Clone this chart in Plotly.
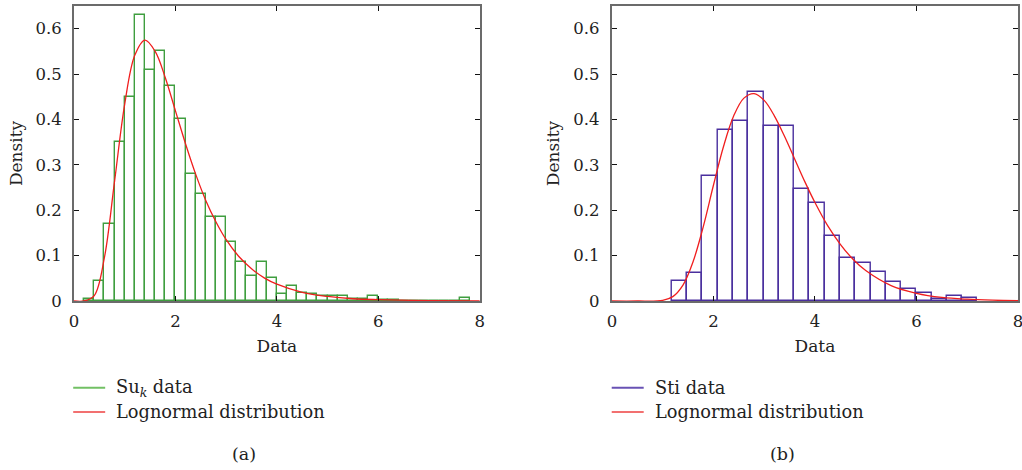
import plotly.graph_objects as go

# ---- Panel (a): Su_k histogram (bin width 0.2) ----
suk_bin_left = [0.2, 0.4, 0.6, 0.8, 1.0, 1.2, 1.4, 1.6, 1.8, 2.0,
                2.2, 2.4, 2.6, 2.8, 3.0, 3.2, 3.4, 3.6, 3.8, 4.0,
                4.2, 4.4, 4.6, 4.8, 5.0, 5.2, 5.4, 5.6, 5.8, 6.0,
                6.2, 6.4, 6.6, 6.8, 7.0, 7.2, 7.4, 7.6]
suk_density = [0.005, 0.045, 0.17, 0.35, 0.45, 0.63, 0.51, 0.55, 0.474, 0.40,
               0.28, 0.236, 0.185, 0.185, 0.131, 0.085, 0.056, 0.085, 0.051, 0.016,
               0.032, 0.017, 0.015, 0.011, 0.011, 0.011, 0.005, 0.004, 0.011, 0.002,
               0.002, 0.001, 0.001, 0.0, 0.0, 0.0, 0.0, 0.006]
suk_bin_width = 0.2

# fitted lognormal curve for panel (a)
suk_fit_x = [0.0, 0.2, 0.4, 0.6, 0.8, 1.0, 1.2, 1.4, 1.6, 1.8, 2.0, 2.2, 2.4,
             2.6, 2.8, 3.0, 3.25, 3.5, 3.75, 4.0, 4.5, 5.0, 5.5, 6.0, 7.0, 8.0]
suk_fit_y = [0.0, 0.0, 0.012, 0.096, 0.264, 0.434, 0.542, 0.575, 0.550, 0.492,
             0.419, 0.346, 0.279, 0.221, 0.174, 0.135, 0.098, 0.071, 0.051,
             0.037, 0.019, 0.010, 0.005, 0.003, 0.001, 0.0003]

# ---- Panel (b): Sti histogram (bin width ~0.301) ----
sti_bin_left = [1.18, 1.481, 1.782, 2.083, 2.384, 2.685, 2.986, 3.287, 3.588, 3.889,
                4.19, 4.491, 4.792, 5.093, 5.394, 5.695, 5.996, 6.297, 6.598, 6.899]
sti_density = [0.043, 0.062, 0.275, 0.377, 0.397, 0.461, 0.386, 0.386, 0.246, 0.217,
               0.143, 0.094, 0.083, 0.063, 0.041, 0.026, 0.018, 0.004, 0.010, 0.006]
sti_bin_width = 0.301

# fitted lognormal curve for panel (b)
sti_fit_x = [0.0, 0.5, 1.0, 1.2, 1.4, 1.6, 1.8, 2.0, 2.2, 2.4, 2.6, 2.8, 3.0,
             3.2, 3.4, 3.6, 3.8, 4.0, 4.25, 4.5, 4.75, 5.0, 5.5, 6.0, 6.5,
             7.0, 7.5, 8.0]
sti_fit_y = [0.0, 0.0, 0.0015, 0.0096, 0.035, 0.087, 0.164, 0.255, 0.341, 0.408,
             0.447, 0.457, 0.442, 0.408, 0.363, 0.313, 0.263, 0.217, 0.166,
             0.125, 0.092, 0.067, 0.034, 0.017, 0.008, 0.004, 0.002, 0.001]

x_ticks = [0, 2, 4, 6, 8]
y_ticks = [0, 0.1, 0.2, 0.3, 0.4, 0.5, 0.6]
y_tick_text = ["0", "0.1", "0.2", "0.3", "0.4", "0.5", "0.6"]

legend_a = ["Su<sub><i>k</i></sub> data", "Lognormal distribution"]
legend_b = ["Sti data", "Lognormal distribution"]
panel_labels = ["(a)", "(b)"]

GREEN = "#3f9e3f"
PURPLE = "#4a2f9e"
RED = "#f01e1e"
LEG_GREEN = "#72c064"
LEG_PURPLE = "#6852b4"
LEG_RED = "#f27070"
FONT = "DejaVu Serif"
TXT = "#222222"

W, H = 1022, 470
ML, MR, MT, MB = 73.5, 4.0, 5.5, 169.3
PW = W - ML - MR
PH = H - MT - MB


def px_x(p):
    """paper x fraction (plot-area relative) from a pixel column"""
    return (p - ML) / PW


def px_y(p):
    """paper y fraction (plot-area relative) from a pixel row"""
    return (H - MB - p) / PH


def centers(lefts, w):
    return [l + w / 2 for l in lefts]


fig = go.Figure()

# panel (a)
fig.add_trace(go.Bar(
    x=centers(suk_bin_left, suk_bin_width), y=suk_density, width=suk_bin_width,
    marker=dict(color="rgba(255,255,255,0)", line=dict(color=GREEN, width=1.4)),
    xaxis="x", yaxis="y", showlegend=False, hoverinfo="skip"))
fig.add_trace(go.Scatter(
    x=suk_fit_x, y=suk_fit_y, mode="lines", line=dict(color=RED, width=1.3, shape="spline"),
    xaxis="x", yaxis="y", showlegend=False, hoverinfo="skip"))

# panel (b)
fig.add_trace(go.Bar(
    x=centers(sti_bin_left, sti_bin_width), y=sti_density, width=sti_bin_width,
    marker=dict(color="rgba(255,255,255,0)", line=dict(color=PURPLE, width=1.4)),
    xaxis="x2", yaxis="y2", showlegend=False, hoverinfo="skip"))
fig.add_trace(go.Scatter(
    x=sti_fit_x, y=sti_fit_y, mode="lines", line=dict(color=RED, width=1.3, shape="spline"),
    xaxis="x2", yaxis="y2", showlegend=False, hoverinfo="skip"))

axis_common = dict(
    showline=True, linecolor="#6b6b6b", linewidth=2, mirror="ticks",
    ticks="inside", ticklen=5, tickwidth=1.3, tickcolor="#111111",
    showgrid=False, zeroline=False, automargin=False, ticklabeloverflow="allow",
    tickfont=dict(family=FONT, size=16.5, color=TXT),
    title_font=dict(family=FONT, size=17, color=TXT),
)

left_dom = [0, (479.5 - ML) / PW]
right_dom = [(611.7 - ML) / PW, 1]

# hand-built legends below each panel: line sample + label
shapes = []
annotations = []
for x0, labels, colors in [(72.7, legend_a, [LEG_GREEN, LEG_RED]),
                           (611.5, legend_b, [LEG_PURPLE, LEG_RED])]:
    for row, (lab, col) in enumerate(zip(labels, colors)):
        yy = 387.5 + row * 24.2
        shapes.append(dict(type="line", xref="paper", yref="paper",
                           x0=px_x(x0), x1=px_x(x0 + 32), y0=px_y(yy), y1=px_y(yy),
                           line=dict(color=col, width=2)))
        annotations.append(dict(text=lab, x=px_x(x0 + 41), y=px_y(yy), xref="paper", yref="paper",
                                xanchor="left", yanchor="middle", showarrow=False,
                                font=dict(family=FONT, size=17.8, color=TXT)))

for lab, cx in zip(panel_labels, [244, 782]):
    annotations.append(dict(text=lab, x=px_x(cx), y=px_y(454), xref="paper", yref="paper",
                            xanchor="center", yanchor="middle", showarrow=False,
                            font=dict(family=FONT, size=17.5, color=TXT)))

fig.update_layout(
    width=W, height=H,
    margin=dict(l=ML, r=MR, t=MT, b=MB, autoexpand=False),
    paper_bgcolor="white", plot_bgcolor="white",
    barmode="overlay", bargap=0, showlegend=False,
    xaxis=dict(domain=left_dom, range=[0, 8], tickvals=x_ticks, ticklabelstandoff=4,
               anchor="y", title=dict(text="Data", standoff=10), **axis_common),
    yaxis=dict(domain=[0, 1], range=[0, 0.65], tickvals=y_ticks, ticktext=y_tick_text,
               ticklabelstandoff=7,
               anchor="x", title=dict(text="Density", standoff=9), **axis_common),
    xaxis2=dict(domain=right_dom, range=[0, 8], tickvals=x_ticks, ticklabelstandoff=4,
                anchor="y2", title=dict(text="Data", standoff=10), **axis_common),
    yaxis2=dict(domain=[0, 1], range=[0, 0.65], tickvals=y_ticks, ticktext=y_tick_text,
                ticklabelstandoff=7,
                anchor="x2", title=dict(text="Density", standoff=9), **axis_common),
    shapes=shapes,
    annotations=annotations,
)

fig.write_html("out.html")
